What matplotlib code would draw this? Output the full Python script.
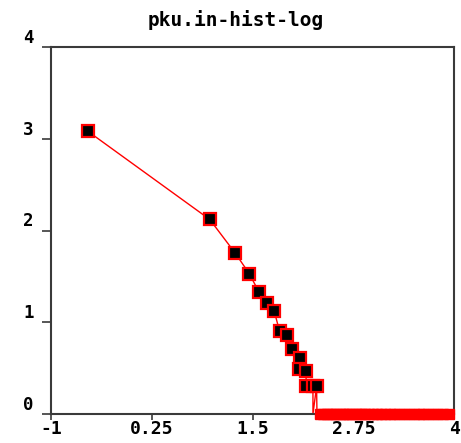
import numpy as np
import matplotlib
matplotlib.use('Agg')
import matplotlib.pyplot as plt

# log10(degree) vs log10(count)
hist_x = [-0.54, 0.97, 1.28, 1.46, 1.58, 1.675, 1.77, 1.835, 1.93, 1.99,
          2.085, 2.08, 2.165, 2.165, 2.25, 2.25, 2.295, 2.30]
hist_y = [3.08, 2.12, 1.76, 1.53, 1.33, 1.215, 1.12, 0.905, 0.865, 0.71,
          0.615, 0.49, 0.47, 0.30, 0.30, 0.0, 0.30, 0.0]

# tail of the histogram: all counts fall to log = 0
zero_x = [2.34, 2.38, 2.42, 2.46, 2.5, 2.54, 2.58, 2.62, 2.66, 2.7, 2.74,
          2.78, 2.82, 2.86, 2.9, 2.95, 3.0, 3.05, 3.1, 3.15, 3.2, 3.26,
          3.32, 3.38, 3.44, 3.5, 3.56, 3.62, 3.68, 3.74, 3.8, 3.86, 3.94]
zero_y = [0.0] * len(zero_x)

xticks = [-1, 0.25, 1.5, 2.75, 4]
xtick_labels = ['-1', '0.25', '1.5', '2.75', '4']
yticks = [0, 1, 2, 3, 4]

mono = 'DejaVu Sans Mono'
red = '#ff0000'
axis_col = '#3a3a3a'

fig = plt.figure(figsize=(4.61, 4.43), dpi=100)
ax = fig.add_axes([51 / 461, 29 / 443, 403 / 461, 367 / 443])

all_x = hist_x + zero_x
all_y = hist_y + zero_y
ax.plot(all_x, all_y, color=red, lw=1.0, zorder=2, clip_on=False)
ax.plot(zero_x, zero_y, ls='none', marker='s', ms=7.5, mfc=red, mec=red,
        mew=1.0, zorder=3, clip_on=False)
nz = [i for i in range(len(hist_x)) if hist_y[i] > 0]
ax.plot([hist_x[i] for i in nz], [hist_y[i] for i in nz], ls='none',
        marker='s', ms=8, mfc='black', mec=red, mew=1.6, zorder=4,
        clip_on=False)

ax.set_xlim(-1, 4)
ax.set_ylim(0, 4)

for s in ax.spines.values():
    s.set_color(axis_col)
    s.set_linewidth(1.5)

ax.set_xticks(xticks)
ax.set_xticklabels(xtick_labels, fontfamily=mono, fontweight='bold',
                   fontsize=13)
ax.set_yticks(yticks)
ax.set_yticklabels([str(v) for v in yticks], fontfamily=mono,
                   fontweight='bold', fontsize=12.5)
for lab in ax.get_yticklabels():
    lab.set_verticalalignment('bottom')

ax.tick_params(axis='x', direction='out', length=4.5, width=1.2,
               color=axis_col, pad=0)
ax.tick_params(axis='y', direction='out', length=6.5, width=1.2,
               color=axis_col, pad=6)

fig.text(236 / 461, 1 - 20 / 443, 'pku.in-hist-log', ha='center',
         va='center', fontfamily=mono, fontweight='bold', fontsize=14)

fig.savefig('out.png', dpi=100)
